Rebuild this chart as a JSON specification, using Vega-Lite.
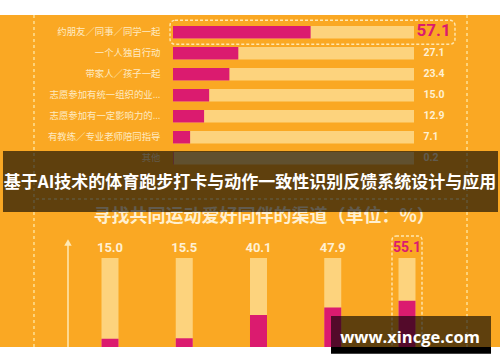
{
  "$schema": "https://vega.github.io/schema/vega-lite/v6.json",
  "padding": {"top": 14, "bottom": 0, "left": 0, "right": 0},
  "background": "#ffffff",
  "spacing": 0,
  "bounds": "flush",
  "config": {"view": {"fill": "#FAA823", "stroke": null}, "font": "Noto Sans CJK SC", "axis": {"disable": true}, "concat": {"spacing": 0}},
  "datasets": {
    "partner": [
      {"way": "约朋友／同事／同学一起", "pct": 57.1},
      {"way": "一个人独自行动", "pct": 27.1},
      {"way": "带家人／孩子一起", "pct": 23.4},
      {"way": "志愿参加有统一组织的业...", "pct": 15.0},
      {"way": "志愿参加有一定影响力的...", "pct": 12.9},
      {"way": "有教练／专业老师陪同指导", "pct": 7.1},
      {"way": "其他", "pct": 0.2}
    ],
    "source": [
      {"src": "渠道A", "pct": 15.0},
      {"src": "渠道B", "pct": 15.5},
      {"src": "渠道C", "pct": 40.1},
      {"src": "渠道D", "pct": 47.9},
      {"src": "渠道E", "pct": 55.1}
    ]
  },
  "vconcat": [
    {
      "width": 500,
      "height": 167,
      "layer": [
        {"data": {"values": [{}]},
         "mark": {"type": "rule", "color": "#FEE49C", "strokeWidth": 1.4, "strokeDash": [3, 3]},
         "encoding": {"x": {"datum": -57.68, "type": "quantitative", "axis": null, "scale": {"domain": [-71.78, 135.68], "nice": false, "zero": false}}}},
        {"data": {"values": [{}]},
         "mark": {"type": "rule", "color": "#FEE49C", "strokeWidth": 1.4, "strokeDash": [3, 3]},
         "encoding": {"x": {"datum": 121.99, "type": "quantitative", "axis": null, "scale": {"domain": [-71.78, 135.68], "nice": false, "zero": false}}}},
        {
          "data": {"name": "partner"},
          "transform": [{"joinaggregate": [{"op": "max", "field": "pct", "as": "maxPct"}]}],
          "encoding": {
            "y": {"field": "way", "type": "nominal", "sort": null, "axis": null,
                  "scale": {"paddingInner": 0.4, "paddingOuter": 0.676, "align": 0.387}}
          },
          "layer": [
            {"mark": {"type": "bar", "color": "#FDD37D"},
             "encoding": {"x": {"datum": 100, "type": "quantitative", "axis": null, "scale": {"domain": [-71.78, 135.68], "nice": false, "zero": false}}, "x2": {"datum": 0}}},
            {"mark": {"type": "bar", "color": "#DB1B6F"},
             "encoding": {"x": {"field": "pct", "type": "quantitative", "axis": null, "scale": {"domain": [-71.78, 135.68], "nice": false, "zero": false}}, "x2": {"datum": 0}}},
            {"mark": {"type": "text", "align": "right", "baseline": "middle", "fontSize": 9.4, "color": "#FEEBC4", "font": "Noto Sans CJK SC"},
             "encoding": {"x": {"datum": -5.19, "type": "quantitative", "axis": null, "scale": {"domain": [-71.78, 135.68], "nice": false, "zero": false}}, "text": {"field": "way"}}},
            {"transform": [{"filter": "datum.pct < datum.maxPct"}],
             "mark": {"type": "text", "align": "left", "baseline": "middle", "fontSize": 10.5, "fontWeight": "bold", "color": "#FFF0D2", "font": "Roboto"},
             "encoding": {"x": {"datum": 103.94, "type": "quantitative", "axis": null, "scale": {"domain": [-71.78, 135.68], "nice": false, "zero": false}}, "text": {"field": "pct", "format": ".1f"}}},
            {"transform": [{"filter": "datum.pct == datum.maxPct"}],
             "mark": {"type": "text", "align": "left", "baseline": "middle", "dy": -1, "fontSize": 17, "fontWeight": "bold", "color": "#DB1B6F", "font": "Roboto"},
             "encoding": {"x": {"datum": 101.04, "type": "quantitative", "axis": null, "scale": {"domain": [-71.78, 135.68], "nice": false, "zero": false}}, "text": {"field": "pct", "format": ".1f"}}},
            {"transform": [{"filter": "datum.pct == datum.maxPct"}],
             "mark": {"type": "bar", "size": 24, "fill": "transparent", "stroke": "#FEE7B0", "strokeWidth": 1.4, "strokeDash": [3, 2], "cornerRadius": 5},
             "encoding": {"x": {"datum": -1.24, "type": "quantitative", "axis": null, "scale": {"domain": [-71.78, 135.68], "nice": false, "zero": false}}, "x2": {"datum": 117.0}}}
          ]
        }
      ]
    },
    {
      "width": 500,
      "height": 181,
      "layer": [
        {
          "data": {"name": "source"},
          "transform": [{"joinaggregate": [{"op": "max", "field": "pct", "as": "maxPct"}]}],
          "encoding": {
            "x": {"field": "src", "type": "nominal", "sort": null, "axis": null,
                  "scale": {"paddingInner": 0, "paddingOuter": 0.867, "align": 0.566}}
          },
          "layer": [
            {"mark": {"type": "bar", "color": "#FDD37D", "size": 17},
             "encoding": {"y": {"datum": 100, "type": "quantitative", "axis": null, "scale": {"domain": [-10.53, 180], "nice": false, "zero": false}}, "y2": {"datum": 0}}},
            {"mark": {"type": "bar", "color": "#DB1B6F", "size": 17},
             "encoding": {"y": {"field": "pct", "type": "quantitative", "axis": null, "scale": {"domain": [-10.53, 180], "nice": false, "zero": false}}, "y2": {"datum": 0}}},
            {"transform": [{"filter": "datum.pct < datum.maxPct"}],
             "mark": {"type": "text", "align": "center", "baseline": "middle", "dy": -10, "fontSize": 13, "fontWeight": "bold", "color": "#FFF0D2", "font": "Roboto"},
             "encoding": {"y": {"datum": 100, "type": "quantitative", "axis": null, "scale": {"domain": [-10.53, 180], "nice": false, "zero": false}}, "text": {"field": "pct", "format": ".1f"}}},
            {"transform": [{"filter": "datum.pct == datum.maxPct"}],
             "mark": {"type": "text", "align": "center", "baseline": "middle", "dy": -10, "fontSize": 14, "fontWeight": "bold", "color": "#DB1B6F", "font": "Roboto"},
             "encoding": {"y": {"datum": 100, "type": "quantitative", "axis": null, "scale": {"domain": [-10.53, 180], "nice": false, "zero": false}}, "text": {"field": "pct", "format": ".1f"}}},
            {"transform": [{"filter": "datum.pct == datum.maxPct"}],
             "mark": {"type": "bar", "size": 30, "fill": "transparent", "stroke": "#FEE7B0", "strokeWidth": 1.4, "strokeDash": [3, 2], "cornerRadius": 4},
             "encoding": {"y": {"datum": 123.2, "type": "quantitative", "axis": null, "scale": {"domain": [-10.53, 180], "nice": false, "zero": false}}, "y2": {"datum": 0}}}
          ]
        },
        {
          "data": {"values": [{}]},
          "layer": [
            {"mark": {"type": "rule", "color": "#FEE49C", "strokeWidth": 1.4, "strokeDash": [3, 3]},
             "encoding": {"x": {"datum": -57.68, "type": "quantitative", "axis": null, "scale": {"domain": [-71.78, 135.68], "nice": false, "zero": false}}}},
            {"mark": {"type": "rule", "color": "#FEE49C", "strokeWidth": 1.4, "strokeDash": [3, 3]},
             "encoding": {"x": {"datum": 121.99, "type": "quantitative", "axis": null, "scale": {"domain": [-71.78, 135.68], "nice": false, "zero": false}}}},
            {"mark": {"type": "rule", "color": "#FEE49C", "strokeWidth": 1.4, "strokeDash": [3, 3]},
             "encoding": {"x": {"datum": -56.85, "type": "quantitative", "axis": null, "scale": {"domain": [-71.78, 135.68], "nice": false, "zero": false}}, "x2": {"datum": 121.58},
                          "y": {"datum": 162.1, "type": "quantitative", "axis": null, "scale": {"domain": [-10.53, 180], "nice": false, "zero": false}}}},
            {"mark": {"type": "rule", "color": "#FEE9B5", "strokeWidth": 1.5},
             "encoding": {"x": {"datum": -43.57, "type": "quantitative", "axis": null, "scale": {"domain": [-71.78, 135.68], "nice": false, "zero": false}},
                          "y": {"datum": 114.5, "type": "quantitative", "axis": null, "scale": {"domain": [-10.53, 180], "nice": false, "zero": false}}, "y2": {"datum": 0}}},
            {"mark": {"type": "point", "shape": "triangle-up", "filled": true, "size": 55, "color": "#FEE9B5", "opacity": 1},
             "encoding": {"x": {"datum": -43.57, "type": "quantitative", "axis": null, "scale": {"domain": [-71.78, 135.68], "nice": false, "zero": false}},
                          "y": {"datum": 116.3, "type": "quantitative", "axis": null, "scale": {"domain": [-10.53, 180], "nice": false, "zero": false}}}},
            {"mark": {"type": "text", "align": "center", "baseline": "middle", "fontSize": 18, "fontWeight": "bold", "color": "#FFF0D0", "font": "Noto Sans CJK SC"},
             "encoding": {"x": {"datum": 37.8, "type": "quantitative", "axis": null, "scale": {"domain": [-71.78, 135.68], "nice": false, "zero": false}},
                          "y": {"datum": 143.2, "type": "quantitative", "axis": null, "scale": {"domain": [-10.53, 180], "nice": false, "zero": false}},
                          "text": {"value": "寻找共同运动爱好同伴的渠道（单位：%）"}}},
            {"mark": {"type": "rect", "color": "#000000", "opacity": 0.62},
             "encoding": {"x": {"datum": -70.54, "type": "quantitative", "axis": null, "scale": {"domain": [-71.78, 135.68], "nice": false, "zero": false}}, "x2": {"datum": 134.85},
                          "y": {"datum": 212.6, "type": "quantitative", "axis": null, "scale": {"domain": [-10.53, 180], "nice": false, "zero": false}}, "y2": {"datum": 148.4}}},
            {"mark": {"type": "text", "align": "center", "baseline": "middle", "fontSize": 17, "fontWeight": "bold", "color": "#FFFFFF", "font": "Noto Sans CJK SC"},
             "encoding": {"x": {"datum": 31.95, "type": "quantitative", "axis": null, "scale": {"domain": [-71.78, 135.68], "nice": false, "zero": false}},
                          "y": {"datum": 178.9, "type": "quantitative", "axis": null, "scale": {"domain": [-10.53, 180], "nice": false, "zero": false}},
                          "text": {"value": "基于AI技术的体育跑步打卡与动作一致性识别反馈系统设计与应用"}}},
            {"mark": {"type": "rect", "color": "#FFFFFF", "opacity": 1},
             "encoding": {"x": {"datum": -71.78, "type": "quantitative", "axis": null, "scale": {"domain": [-71.78, 135.68], "nice": false, "zero": false}}, "x2": {"datum": 135.68},
                          "y": {"datum": 6.32, "type": "quantitative", "axis": null, "scale": {"domain": [-10.53, 180], "nice": false, "zero": false}}, "y2": {"datum": -10.53}}},
            {"mark": {"type": "rect", "color": "#000000", "opacity": 0.62},
             "encoding": {"x": {"datum": 65.56, "type": "quantitative", "axis": null, "scale": {"domain": [-71.78, 135.68], "nice": false, "zero": false}}, "x2": {"datum": 131.95},
                          "y": {"datum": 38.95, "type": "quantitative", "axis": null, "scale": {"domain": [-10.53, 180], "nice": false, "zero": false}}, "y2": {"datum": 6.32}}},
            {"mark": {"type": "rect", "color": "#000000", "opacity": 1},
             "encoding": {"x": {"datum": 65.56, "type": "quantitative", "axis": null, "scale": {"domain": [-71.78, 135.68], "nice": false, "zero": false}}, "x2": {"datum": 131.95},
                          "y": {"datum": 6.32, "type": "quantitative", "axis": null, "scale": {"domain": [-10.53, 180], "nice": false, "zero": false}}, "y2": {"datum": -0.74}}},
            {"mark": {"type": "text", "align": "center", "baseline": "middle", "fontSize": 16.5, "fontWeight": "bold", "color": "#FFFFFF", "font": "Open Sans"},
             "encoding": {"x": {"datum": 98.34, "type": "quantitative", "axis": null, "scale": {"domain": [-71.78, 135.68], "nice": false, "zero": false}},
                          "y": {"datum": 15.26, "type": "quantitative", "axis": null, "scale": {"domain": [-10.53, 180], "nice": false, "zero": false}},
                          "text": {"value": "www.xincge.com"}}}
          ]
        }
      ],
      "resolve": {"scale": {"x": "independent"}}
    }
  ],
  "resolve": {"scale": {"x": "independent", "y": "independent"}}
}
